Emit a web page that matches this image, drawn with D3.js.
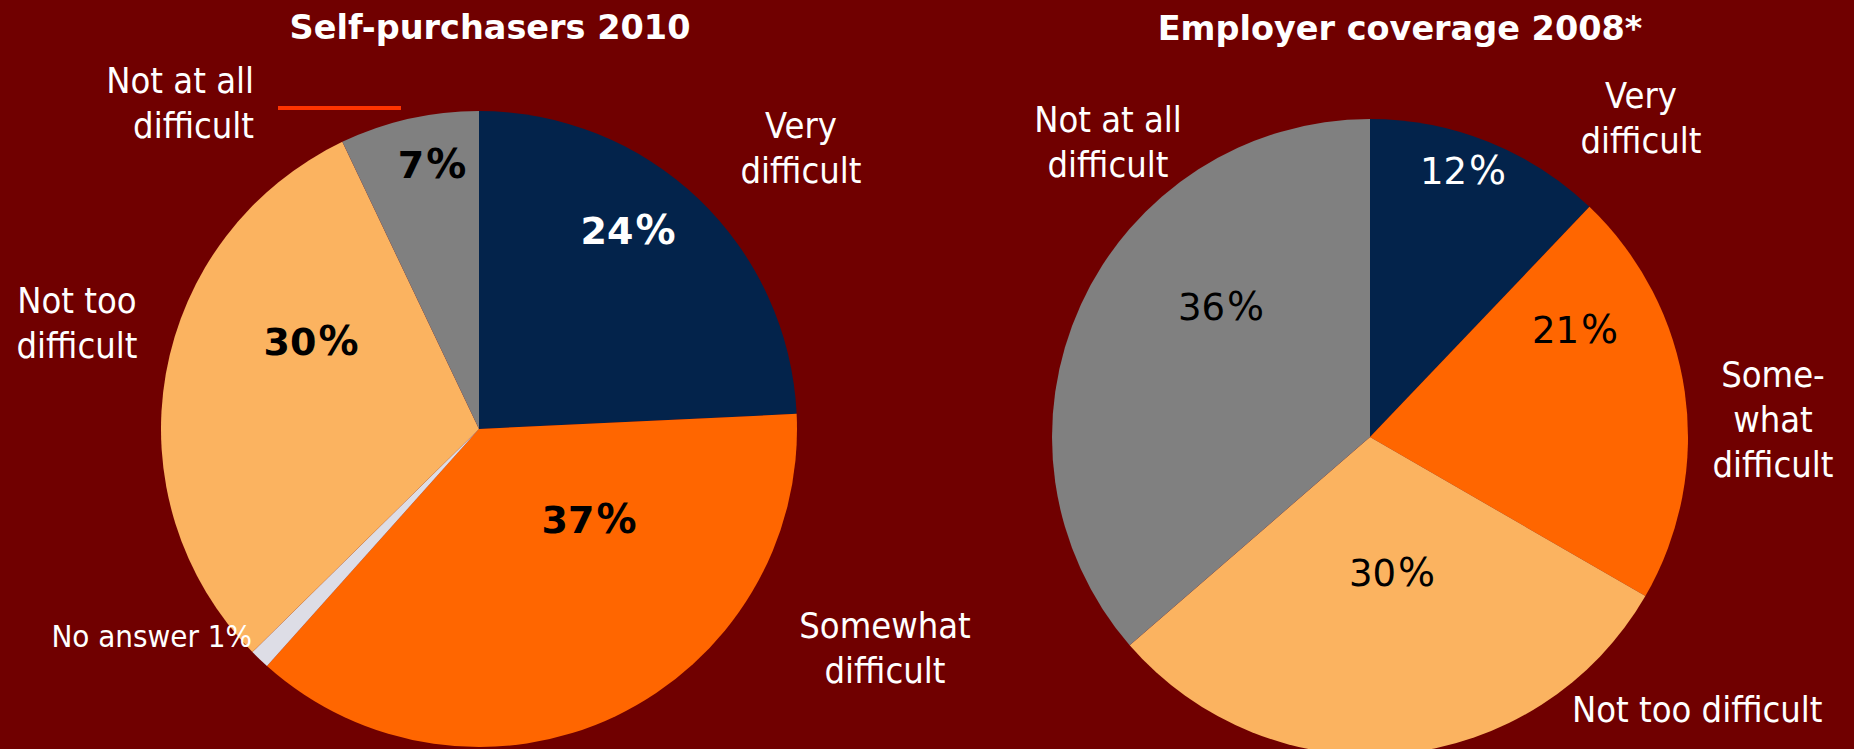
<!DOCTYPE html>
<html>
<head>
<meta charset="utf-8">
<script src="https://cdn.jsdelivr.net/npm/d3@7"></script>
<style>
  html, body { margin: 0; padding: 0; background: #700000; overflow: hidden; }
  svg { display: block; }
</style>
</head>
<body>
<svg id="chart" width="1854" height="749"></svg>
<script>
// ---------- DATA ----------
const leftTitle = "Self-purchasers 2010";
const leftCategories = ["Very difficult", "Somewhat difficult", "No answer", "Not too difficult", "Not at all difficult"];
const leftValues = [24, 37, 1, 30, 7];

const rightTitle = "Employer coverage 2008*";
const rightCategories = ["Very difficult", "Somewhat difficult", "Not too difficult", "Not at all difficult"];
const rightValues = [12, 21, 30, 36];

// ---------- STYLE / LAYOUT ----------
const W = 1854, H = 749;
const bg = "#700000";
const colorByCategory = {
  "Very difficult": "#03234B",
  "Somewhat difficult": "#FF6600",
  "No answer": "#DDDDE6",
  "Not too difficult": "#FBB360",
  "Not at all difficult": "#808080"
};
const pctColor = {
  "Very difficult": "#ffffff",
  "Somewhat difficult": "#000000",
  "No answer": "#000000",
  "Not too difficult": "#000000",
  "Not at all difficult": "#000000"
};
const labelFont = "'DejaVu Sans Condensed', 'DejaVu Sans', sans-serif";

const panels = [
  {
    title: leftTitle, titleX: 490, titleY: 39,
    categories: leftCategories, values: leftValues,
    cx: 479, cy: 429, r: 318,
    pctStyle: { weight: "bold", size: 38, pctSize: 40, family: "'DejaVu Sans', sans-serif" },
    pctPos: {
      "Very difficult": [628, 244],
      "Somewhat difficult": [589, 533],
      "Not too difficult": [311, 355],
      "Not at all difficult": [432, 178]
    },
    labels: [
      { lines: ["Very", "difficult"], x: 801, y: 138, anchor: "middle" },
      { lines: ["Somewhat", "difficult"], x: 885, y: 638, anchor: "middle" },
      { lines: ["Not too", "difficult"], x: 77, y: 313, anchor: "middle" },
      { lines: ["Not at all", "difficult"], x: 254, y: 93, anchor: "end" },
      { lines: ["No answer 1%"], x: 252, y: 647, anchor: "end", size: 31 }
    ],
    leader: { x1: 278, x2: 401, y: 108 }
  },
  {
    title: rightTitle, titleX: 1400, titleY: 40,
    categories: rightCategories, values: rightValues,
    cx: 1370, cy: 437, r: 318,
    pctStyle: { weight: "normal", size: 37, pctSize: 39, family: "'DejaVu Sans', sans-serif" },
    pctPos: {
      "Very difficult": [1463, 184],
      "Somewhat difficult": [1575, 343],
      "Not too difficult": [1392, 586],
      "Not at all difficult": [1221, 320]
    },
    labels: [
      { lines: ["Very", "difficult"], x: 1641, y: 108, anchor: "middle" },
      { lines: ["Some-", "what", "difficult"], x: 1773, y: 387, anchor: "middle" },
      { lines: ["Not too difficult"], x: 1572, y: 722, anchor: "start" },
      { lines: ["Not at all", "difficult"], x: 1108, y: 132, anchor: "middle" }
    ],
    leader: null
  }
];

// ---------- DRAW ----------
const svg = d3.select("#chart");
svg.append("rect").attr("width", W).attr("height", H).attr("fill", bg);

const pie = d3.pie().sort(null).value(d => d.value);

panels.forEach(p => {
  const data = p.categories.map((c, i) => ({ category: c, value: p.values[i] }));
  const arcs = pie(data);
  const arc = d3.arc().innerRadius(0).outerRadius(p.r);

  const g = svg.append("g").attr("transform", `translate(${p.cx},${p.cy})`);
  g.selectAll("path.slice")
    .data(arcs)
    .join("path")
    .attr("class", "slice")
    .attr("d", arc)
    .attr("fill", d => colorByCategory[d.data.category]);

  // percentage labels
  const pct = svg.append("g").selectAll("text.pct")
    .data(arcs.filter(d => p.pctPos[d.data.category]))
    .join("text")
    .attr("class", "pct")
    .attr("x", d => p.pctPos[d.data.category][0])
    .attr("y", d => p.pctPos[d.data.category][1])
    .attr("text-anchor", "middle")
    .attr("font-family", p.pctStyle.family)
    .attr("font-weight", p.pctStyle.weight)
    .attr("font-size", p.pctStyle.size)
    .attr("fill", d => pctColor[d.data.category]);
  pct.append("tspan").text(d => d.data.value);
  pct.append("tspan").attr("dx", 2).attr("font-size", p.pctStyle.pctSize).text("%");

  // title
  svg.append("text")
    .attr("x", p.titleX).attr("y", p.titleY)
    .attr("text-anchor", "middle")
    .attr("font-family", "'DejaVu Sans', sans-serif")
    .attr("font-weight", "bold")
    .attr("font-size", 33.5)
    .attr("fill", "#ffffff")
    .text(p.title);

  // category labels
  p.labels.forEach(l => {
    const t = svg.append("text")
      .attr("x", l.x).attr("y", l.y)
      .attr("text-anchor", l.anchor)
      .attr("font-family", labelFont)
      .attr("font-size", l.size || 36)
      .attr("fill", "#ffffff");
    l.lines.forEach((line, i) => {
      t.append("tspan").attr("x", l.x).attr("dy", i === 0 ? 0 : 45).text(line);
    });
  });

  if (p.leader) {
    svg.append("line")
      .attr("x1", p.leader.x1).attr("x2", p.leader.x2)
      .attr("y1", p.leader.y).attr("y2", p.leader.y)
      .attr("stroke", "#FF3300").attr("stroke-width", 4);
  }
});
</script>
</body>
</html>
